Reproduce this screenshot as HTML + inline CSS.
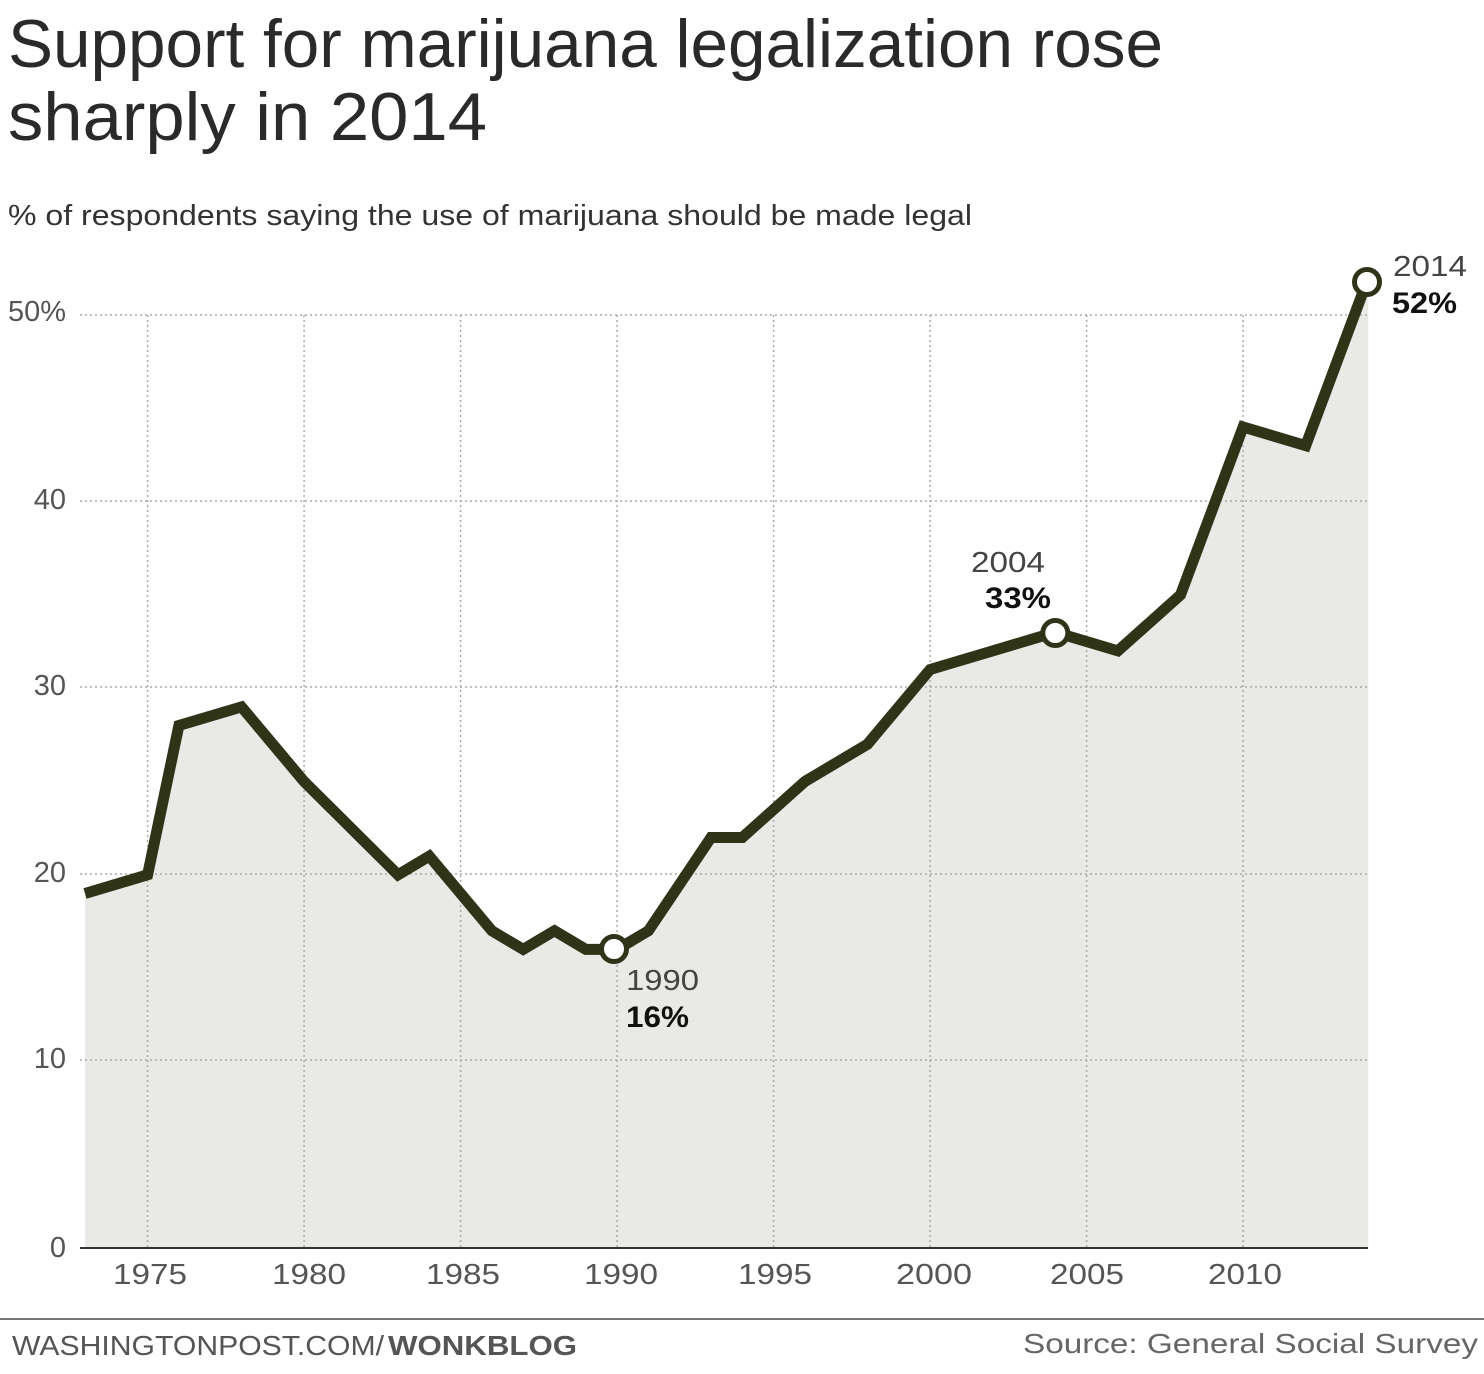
<!DOCTYPE html>
<html><head><meta charset="utf-8"><style>
html,body{margin:0;padding:0;background:#fff;}
svg{display:block;font-family:"Liberation Sans",sans-serif;}
</style></head><body>
<svg width="1484" height="1374" viewBox="0 0 1484 1374" xmlns="http://www.w3.org/2000/svg">
<text x="8" y="67" font-size="68" fill="#2a2a2a" textLength="1155" lengthAdjust="spacingAndGlyphs">Support for marijuana legalization rose</text>
<text x="8" y="140" font-size="68" fill="#2a2a2a" textLength="479" lengthAdjust="spacingAndGlyphs">sharply in 2014</text>
<text x="8" y="225" font-size="29" fill="#333" textLength="964" lengthAdjust="spacingAndGlyphs">% of respondents saying the use of marijuana should be made legal</text>

<polygon fill="#e9e9e5" points="85,1248 85,893.5 147.6,874.8 178.9,725.5 241.5,706.9 304.1,781.5 398,874.8 429.3,856.1 491.9,930.8 523.2,949.4 554.5,930.8 585.8,949.4 617.1,949.4 648.4,930.8 711,837.5 742.3,837.5 804.9,781.5 867.5,744.2 930.1,669.5 992.7,650.9 1055.3,632.2 1117.9,650.9 1180.5,594.9 1243.1,427 1305.7,445.6 1368.3,277.7 1368.3,1248"/>

<g stroke="#aaa" stroke-width="1.5" stroke-dasharray="2,3">
<line x1="80" y1="315" x2="1368" y2="315"/>
<line x1="80" y1="501" x2="1368" y2="501"/>
<line x1="80" y1="687" x2="1368" y2="687"/>
<line x1="80" y1="874" x2="1368" y2="874"/>
<line x1="80" y1="1060" x2="1368" y2="1060"/>
<line x1="147.6" y1="315" x2="147.6" y2="1248"/>
<line x1="304.1" y1="315" x2="304.1" y2="1248"/>
<line x1="460.6" y1="315" x2="460.6" y2="1248"/>
<line x1="617.1" y1="315" x2="617.1" y2="1248"/>
<line x1="773.6" y1="315" x2="773.6" y2="1248"/>
<line x1="930.1" y1="315" x2="930.1" y2="1248"/>
<line x1="1086.6" y1="315" x2="1086.6" y2="1248"/>
<line x1="1243.1" y1="315" x2="1243.1" y2="1248"/>
</g>
<line x1="80" y1="1248" x2="1368" y2="1248" stroke="#333" stroke-width="2"/>

<g font-size="29" fill="#555" text-anchor="end">
<text x="66" y="321" textLength="58" lengthAdjust="spacingAndGlyphs">50%</text>
<text x="66" y="509">40</text>
<text x="66" y="695">30</text>
<text x="66" y="882">20</text>
<text x="66" y="1068">10</text>
<text x="66" y="1257">0</text>
</g>
<g font-size="29" fill="#555">
<text x="113" y="1284" textLength="74" lengthAdjust="spacingAndGlyphs">1975</text>
<text x="272" y="1284" textLength="74" lengthAdjust="spacingAndGlyphs">1980</text>
<text x="426" y="1284" textLength="74" lengthAdjust="spacingAndGlyphs">1985</text>
<text x="584" y="1284" textLength="74" lengthAdjust="spacingAndGlyphs">1990</text>
<text x="738" y="1284" textLength="74" lengthAdjust="spacingAndGlyphs">1995</text>
<text x="896" y="1284" textLength="76" lengthAdjust="spacingAndGlyphs">2000</text>
<text x="1050" y="1284" textLength="74" lengthAdjust="spacingAndGlyphs">2005</text>
<text x="1208" y="1284" textLength="74" lengthAdjust="spacingAndGlyphs">2010</text>
</g>

<polyline fill="none" stroke="#2f3419" stroke-width="11" stroke-linejoin="miter" stroke-miterlimit="3" points="85,893.5 147.6,874.8 178.9,725.5 241.5,706.9 304.1,781.5 398,874.8 429.3,856.1 491.9,930.8 523.2,949.4 554.5,930.8 585.8,949.4 617.1,949.4 648.4,930.8 711,837.5 742.3,837.5 804.9,781.5 867.5,744.2 930.1,669.5 992.7,650.9 1055.3,632.2 1117.9,650.9 1180.5,594.9 1243.1,427 1305.7,445.6 1368.3,277.7"/>

<g fill="#fff" stroke="#2f3419" stroke-width="5">
<circle cx="614" cy="949" r="12.5"/>
<circle cx="1055.3" cy="633" r="12.5"/>
<circle cx="1367" cy="282" r="12.5"/>
</g>

<text x="626" y="990" font-size="29" fill="#444" textLength="73" lengthAdjust="spacingAndGlyphs">1990</text>
<text x="626" y="1027" font-size="30" font-weight="bold" fill="#111" textLength="63" lengthAdjust="spacingAndGlyphs">16%</text>
<text x="971" y="572" font-size="29" fill="#444" textLength="74" lengthAdjust="spacingAndGlyphs">2004</text>
<text x="985" y="608" font-size="30" font-weight="bold" fill="#111" textLength="66" lengthAdjust="spacingAndGlyphs">33%</text>
<text x="1393" y="276" font-size="29" fill="#444" textLength="74" lengthAdjust="spacingAndGlyphs">2014</text>
<text x="1392" y="313" font-size="30" font-weight="bold" fill="#111" textLength="65" lengthAdjust="spacingAndGlyphs">52%</text>

<line x1="0" y1="1319" x2="1484" y2="1319" stroke="#777" stroke-width="2"/>
<text x="12" y="1355" font-size="28" fill="#555" textLength="372" lengthAdjust="spacingAndGlyphs">WASHINGTONPOST.COM/</text>
<text x="388" y="1355" font-size="28" font-weight="bold" fill="#555" textLength="189" lengthAdjust="spacingAndGlyphs">WONKBLOG</text>
<text x="1023" y="1353" font-size="28" fill="#666" textLength="455" lengthAdjust="spacingAndGlyphs">Source: General Social Survey</text>
</svg>
</body></html>
